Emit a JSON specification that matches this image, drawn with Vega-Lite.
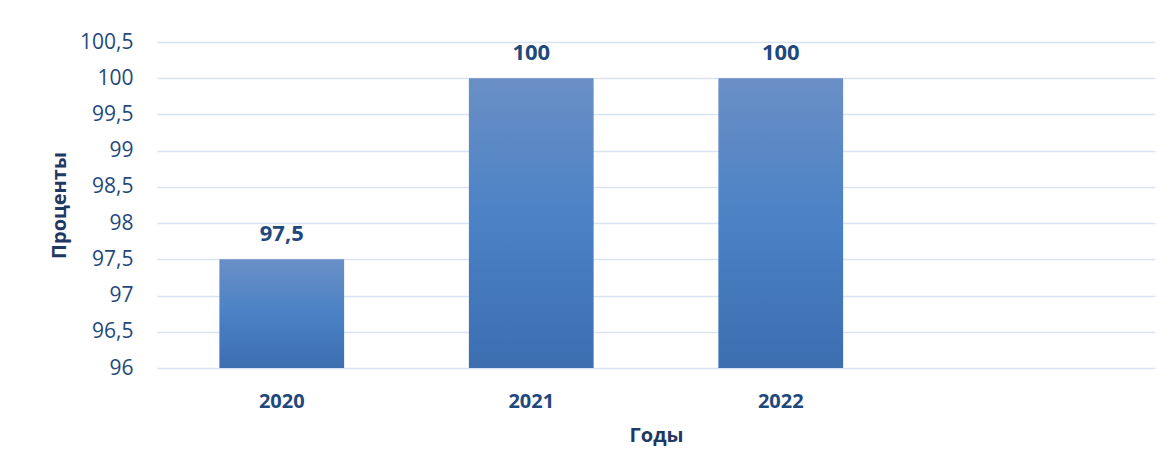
{
  "$schema": "https://vega.github.io/schema/vega-lite/v6.json",
  "width": 998,
  "height": 326,
  "autosize": {"type": "none"},
  "padding": {"left": 157, "top": 42, "right": 16, "bottom": 108},
  "background": "white",
  "data": {
    "values": [
      {"year": "2020", "value": 97.5},
      {"year": "2021", "value": 100},
      {"year": "2022", "value": 100}
    ]
  },
  "encoding": {
    "x": {
      "field": "year",
      "type": "nominal",
      "scale": {"domain": ["2020", "2021", "2022", " "], "paddingInner": 0.5, "paddingOuter": 0.25},
      "axis": {
        "domain": false,
        "ticks": false,
        "grid": false,
        "labelAngle": 0,
        "labelPadding": 23,
        "labelFont": "Open Sans",
        "labelFontSize": 20,
        "labelFontWeight": "bold",
        "labelColor": "#1f497d",
        "title": "Годы",
        "titleFont": "Open Sans",
        "titleFontSize": 20,
        "titleFontWeight": "bold",
        "titleColor": "#1f3864",
        "titlePadding": 14
      }
    },
    "y": {
      "field": "value",
      "type": "quantitative",
      "scale": {"domain": [96, 100.5], "zero": false, "nice": false},
      "axis": {
        "values": [96, 96.5, 97, 97.5, 98, 98.5, 99, 99.5, 100, 100.5],
        "labelExpr": "replace(format(datum.value, '.1~f'), '.', ',')",
        "domain": false,
        "ticks": false,
        "labelPadding": 24,
        "labelFont": "Open Sans",
        "labelFontSize": 21,
        "labelColor": "#1f497d",
        "gridColor": "#d9e4f3",
        "gridWidth": 1.5,
        "title": "Проценты",
        "titleFont": "Open Sans",
        "titleFontSize": 20,
        "titleFontWeight": "bold",
        "titleColor": "#1f3864",
        "titlePadding": 10
      }
    }
  },
  "layer": [
    {
      "mark": {
        "type": "bar",
        "color": {
          "gradient": "linear",
          "x1": 0, "y1": 0, "x2": 0, "y2": 1,
          "stops": [
            {"offset": 0, "color": "#6a8fc6"},
            {"offset": 0.5, "color": "#4a82c5"},
            {"offset": 1, "color": "#3c6eb0"}
          ]
        }
      },
      "encoding": {"y2": {"datum": 96}}
    },
    {
      "mark": {
        "type": "text",
        "baseline": "alphabetic",
        "dy": -18,
        "font": "Open Sans",
        "fontSize": 22,
        "fontWeight": "bold",
        "color": "#1f497d"
      },
      "encoding": {
        "text": {"field": "value", "type": "quantitative", "format": ".1~f"}
      }
    }
  ],
  "config": {
    "view": {"stroke": null},
    "locale": {
      "number": {"decimal": ",", "thousands": "\u00a0", "grouping": [3], "currency": ["", " ₽"]}
    }
  }
}
